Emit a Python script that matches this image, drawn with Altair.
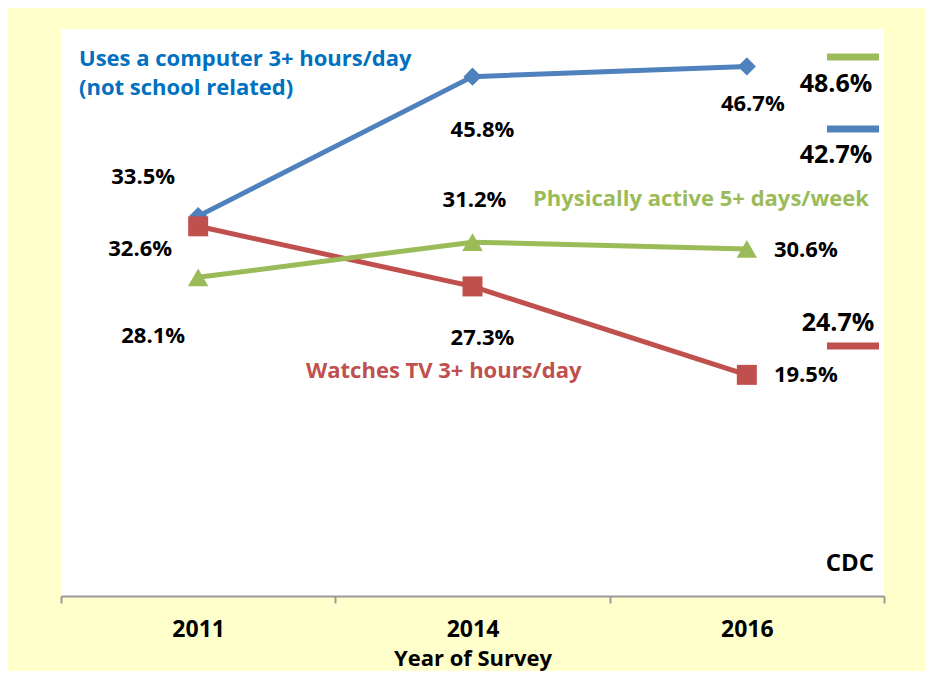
import altair as alt
import pandas as pd

years = ["2011", "2014", "2016"]
computer = [33.5, 45.8, 46.7]
tv = [32.6, 27.3, 19.5]
active = [28.1, 31.2, 30.6]

series_names = ["computer", "tv", "active"]
series_values = [computer, tv, active]
series_colors = ["#4F81BD", "#C0504D", "#9BBB59"]
series_shapes = ["diamond", "square", "triangle-up"]
series_sizes = [330, 400, 420]

# right-side reference values
ref_values = ["48.6%", "42.7%", "24.7%"]
ref_colors = ["#9BBB59", "#4F81BD", "#C0504D"]

FONT = "Open Sans"
W, H = 823, 567

rows = []
for name, vals in zip(series_names, series_values):
    for y, v in zip(years, vals):
        rows.append({"series": name, "year": y, "value": v})
df = pd.DataFrame(rows)

xenc = alt.X("year:N", sort=years,
             scale=alt.Scale(paddingInner=0, paddingOuter=0),
             axis=alt.Axis(title="Year of Survey", labelAngle=0,
                           tickBand="extent", tickSize=7, tickColor="#999999",
                           domainColor="#999999", domainWidth=2, tickWidth=2,
                           labelFont=FONT, labelFontWeight="bold", labelFontSize=23,
                           labelColor="black", labelPadding=15,
                           titleFont=FONT, titleFontWeight="bold", titleFontSize=22,
                           titleColor="black", titlePadding=7))
yenc = alt.Y("value:Q", scale=alt.Scale(domain=[0, 50], nice=False, zero=True), axis=None)

base = alt.Chart(df)
layers = []
for name, color, shape, size in zip(series_names, series_colors, series_shapes, series_sizes):
    sub = base.transform_filter(alt.datum.series == name)
    layers.append(sub.mark_line(color=color, strokeWidth=5).encode(x=xenc, y=yenc))
    layers.append(sub.mark_point(color=color, shape=shape, size=size, filled=True, opacity=1)
                  .encode(x=xenc, y=yenc))

# value labels with individual offsets (dx, dy)
offsets = {
    ("computer", "2011"): (-55, -39), ("computer", "2014"): (10, 53), ("computer", "2016"): (6, 38),
    ("active", "2011"): (-45, 59), ("active", "2014"): (2, -42), ("active", "2016"): (59, 1),
    ("tv", "2011"): (-58, 23), ("tv", "2014"): (10, 52), ("tv", "2016"): (59, 0),
}
for (name, yr), (dx, dy) in offsets.items():
    layers.append(
        base.transform_filter((alt.datum.series == name) & (alt.datum.year == yr))
        .transform_calculate(label="format(datum.value, '.1f') + '%'")
        .mark_text(font=FONT, fontWeight="bold", fontSize=22, color="black",
                   dx=dx, dy=dy, align="center", baseline="middle")
        .encode(x=xenc, y=yenc, text="label:N")
    )

anno = alt.Chart(pd.DataFrame({"a": [0]}))
# series labels
layers.append(anno.mark_text(font=FONT, fontWeight="bold", fontSize=22, color="#0070C0",
                             align="left", baseline="alphabetic", lineHeight=28.5)
              .encode(x=alt.value(18), y=alt.value(37),
                      text=alt.value(["Uses a computer 3+ hours/day", "(not school related)"])))
layers.append(anno.mark_text(font=FONT, fontWeight="bold", fontSize=22, color="#9BBB59",
                             align="left", baseline="alphabetic")
              .encode(x=alt.value(472), y=alt.value(177),
                      text=alt.value("Physically active 5+ days/week")))
layers.append(anno.mark_text(font=FONT, fontWeight="bold", fontSize=22, color="#C0504D",
                             align="left", baseline="alphabetic")
              .encode(x=alt.value(245), y=alt.value(349),
                      text=alt.value("Watches TV 3+ hours/day")))
layers.append(anno.mark_text(font=FONT, fontWeight="bold", fontSize=24, color="black",
                             align="right", baseline="alphabetic")
              .encode(x=alt.value(813), y=alt.value(542), text=alt.value("CDC")))

# right-side reference dashes and values
dash_y = [28, 100, 317]
text_y = [63, 134, 302]
text_x = [775, 775, 777]
for val, col, dy_, ty, tx in zip(ref_values, ref_colors, dash_y, text_y, text_x):
    layers.append(anno.mark_rule(color=col, strokeWidth=7)
                  .encode(x=alt.value(766), x2=alt.value(818), y=alt.value(dy_)))
    layers.append(anno.mark_text(font=FONT, fontWeight="bold", fontSize=25, color="black",
                                 align="center", baseline="alphabetic")
                  .encode(x=alt.value(tx), y=alt.value(ty), text=alt.value(val)))

chart = alt.layer(*layers).properties(
    width=W, height=H,
    background="#FFFFCC",
    autosize=alt.AutoSizeParams(type="none"),
    padding={"left": 53, "top": 21, "right": 41, "bottom": 75},
).configure_view(stroke=None, fill="white")

chart.save("out.html", embed_options={"renderer": "svg", "actions": False})
